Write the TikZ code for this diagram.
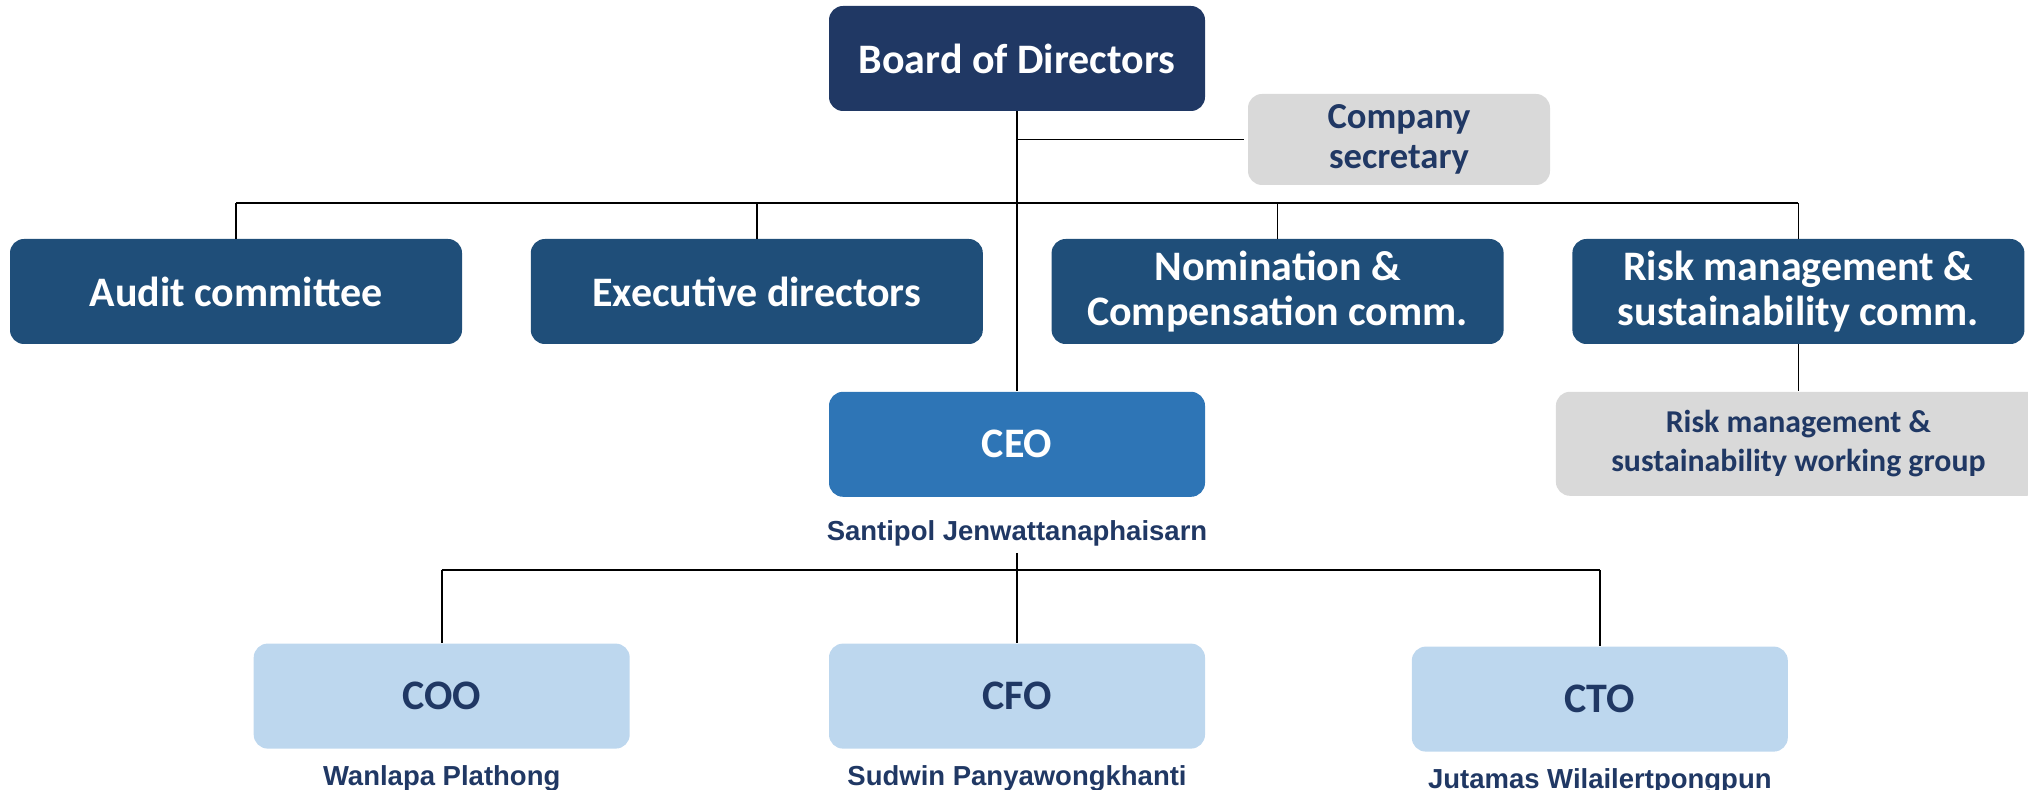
\documentclass[tikz,border=0pt]{standalone}
\usepackage{fontspec}
\setmainfont{Carlito}
\newfontfamily\namefont{Liberation Sans}
\usetikzlibrary{positioning}

\definecolor{boardblue}{HTML}{203864}
\definecolor{commblue}{HTML}{1F4E79}
\definecolor{ceoblue}{HTML}{2E75B6}
\definecolor{officerblue}{HTML}{BDD7EE}
\definecolor{boxgray}{HTML}{D9D9D9}

\begin{document}
\begin{tikzpicture}[
    x=0.5pt,y=-0.5pt,
    box/.style={rectangle,rounded corners=7pt,inner sep=2pt,align=center,font=\bfseries\fontsize{21}{22.5}\selectfont},
    topbox/.style={box,fill=boardblue,text=white,minimum width=188pt,minimum height=52.5pt},
    commbox/.style={box,fill=commblue,text=white,minimum width=226pt,minimum height=52.5pt},
    ceobox/.style={box,fill=ceoblue,text=white,minimum width=188pt,minimum height=52.5pt},
    officerbox/.style={box,fill=officerblue,text=boardblue,minimum width=188pt,minimum height=52.5pt},
    supportbox/.style={box,fill=boxgray,text=boardblue},
    personname/.style={font=\namefont\bfseries\fontsize{13.75}{15}\selectfont,text=boardblue,inner sep=0pt,text height=9.9pt,text depth=0pt},
    link/.style={draw=black,line width=0.8pt},
    bus/.style={draw=black,line width=1.2pt}
]
    \useasboundingbox (0,0) rectangle (2028,790);

    % board and committees
    \node[topbox] (board) at (1017,58.5) {Board of Directors};
    \node[supportbox,minimum width=151pt,minimum height=45.5pt,font=\bfseries\fontsize{18.3}{20}\selectfont] (secretary) at (1399,139.5) {Company\\secretary};
    \node[commbox] (audit) at (236,291.5) {Audit committee};
    \node[commbox,right=34pt of audit] (exec) {Executive directors};
    \node[commbox,right=34pt of exec] (nomination) {Nomination \&\\Compensation comm.};
    \node[commbox,right=34pt of nomination] (risk) {Risk management \&\\sustainability comm.};
    \node[supportbox,below=23.5pt of risk,minimum width=242.5pt,minimum height=52pt,font=\bfseries\fontsize{15.9}{19.5}\selectfont] (workgroup) {Risk management \&\\sustainability working group};

    % management
    \node[ceobox,below=140pt of board] (ceo) {CEO};
    \node[personname,below=11.5pt of ceo] (ceoname) {Santipol Jenwattanaphaisarn};
    \node[officerbox,below=73pt of ceo] (cfo) {CFO};
    \node[officerbox,left=99.25pt of cfo] (coo) {COO};
    \node[officerbox,right=103pt of cfo,yshift=-1.5pt] (cto) {CTO};
    \node[personname,below=8pt of coo] (cooname) {Wanlapa Plathong};
    \node[personname,below=8pt of cfo] (cfoname) {Sudwin Panyawongkhanti};
    \node[personname,below=8pt of cto] (ctoname) {Jutamas Wilailertpongpun};

    \coordinate (bus) at (0,203);
    \coordinate (lowbus) at (0,570);

    % connectors
    \draw[link] (board) -- (ceo);
    \draw[link] (board.south |- secretary.west) -- ([xshift=-2pt]secretary.west);
    \draw[bus] (audit.north |- bus) -- (risk.north |- bus);
    \foreach \c in {audit,exec,nomination,risk}
        \draw[link] (\c.north |- bus) -- (\c.north);
    \draw[link] (risk) -- (workgroup);

    \draw[link] ([yshift=-6pt]ceoname.south) -- (cfo.north);
    \draw[bus] (coo.north |- lowbus) -- (cto.north |- lowbus);
    \foreach \c in {coo,cto}
        \draw[link] (\c.north |- lowbus) -- (\c.north);
\end{tikzpicture}
\end{document}
